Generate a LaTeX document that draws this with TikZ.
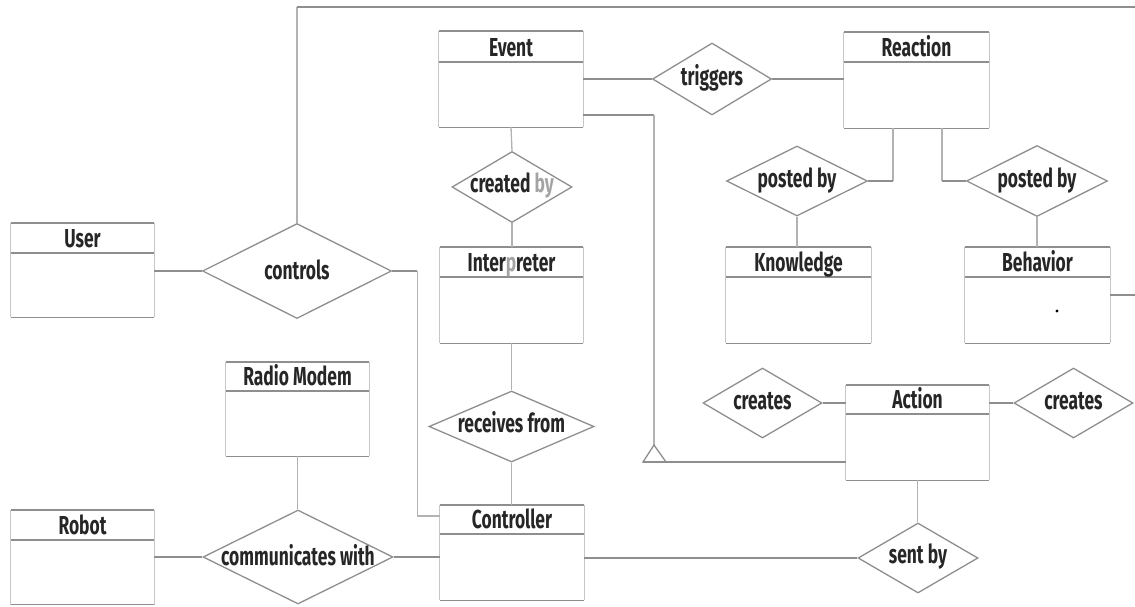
\documentclass[tikz,border=0pt]{standalone}
\usepackage{fontspec}
\setmainfont{Fira Sans}[FakeStretch=0.67]
\usetikzlibrary{shapes.geometric,fit,calc}

\definecolor{linegray}{HTML}{8E8E8E}
\definecolor{vertgray}{HTML}{B2B2B2}
\definecolor{sidegray}{HTML}{C6C6C6}
\definecolor{inkgray}{HTML}{262626}
\definecolor{fadegray}{HTML}{A4A4A4}

\tikzset{
  rule/.style={draw=linegray, line width=1.4pt},
  side/.style={draw=sidegray, line width=1pt},
  conn/.style={draw=linegray, line width=1.3pt},
  vconn/.style={draw=vertgray, line width=1.3pt},
  rel/.style={diamond, draw=linegray, line width=1.3pt, inner sep=0pt},
  etitle/.style={text=inkgray, font=\bfseries\fontsize{26}{28}\selectfont, inner sep=0pt},
}

% entity box: name, left, top, right, header line, bottom, title
\newcommand\entitybox[7]{%
  \node[fit={(#2,#3) (#4,#6)}, inner sep=0pt] (#1) {};
  \draw[side] (#1.north west) -- (#1.south west) (#1.north east) -- (#1.south east);
  \draw[rule] (#1.north west) -- (#1.north east) (#2,#5) -- (#4,#5) (#1.south west) -- (#1.south east);
  \node[etitle, anchor=base] (#1-title) at ({(#2+#4)/2},{#5-5.5}) {#7};
}

% relationship diamond: name, x, y, width, height, text, baseline drop
\newcommand\relation[7]{%
  \node[rel, minimum width=#4, minimum height=#5] (#1) at (#2,#3) {};
  \node[etitle, anchor=base] (#1-label) at ([yshift=-#7pt]#1.center) {#6};
}

\begin{document}
\begin{tikzpicture}[x=1pt, y=-1pt]
\useasboundingbox (0,0) rectangle (1135,606);

% entities
\entitybox{event}{439}{31}{583}{62}{127}{Event}
\entitybox{reaction}{844}{32}{989}{62}{128}{Reaction}
\entitybox{user}{11}{223}{154}{253}{317}{User}
\entitybox{interp}{440}{247}{583}{277}{343}{Inter{\color{fadegray}p}reter}
\entitybox{knowledge}{726}{247}{871}{277}{343}{Knowledge}
\entitybox{behavior}{965}{247}{1110}{277}{343}{Behavior}
\entitybox{radio}{226}{362}{369}{391}{456}{Radio Modem}
\entitybox{action}{846}{385}{989}{414}{480}{Action}
\entitybox{controller}{440}{505}{584}{534}{600}{Controller}
\entitybox{robot}{11}{510}{154}{540}{604.5}{Robot}

\fill[black] (1057,311) circle (1.6pt);

% relationships
\relation{controls}{297}{271}{189}{95}{controls}{8}
\relation{triggers}{712}{79}{119}{72}{triggers}{6}
\relation{postedA}{797}{181}{141}{70}{posted by}{6}
\relation{postedB}{1037}{181}{141}{71}{posted by}{6}
\relation{createdby}{512}{187}{120}{71}{created {\color{fadegray}by}}{5}
\relation{receives}{511.5}{426.5}{165}{71}{receives from}{6}
\relation{createsA}{762.5}{403}{119}{70}{creates}{6}
\relation{createsB}{1073.5}{403}{119}{70}{creates}{6}
\relation{sentby}{918}{558}{120}{70}{sent by}{5}
\relation{comm}{298}{557}{190}{94}{communicates with}{8}

% free ends and the generalization marker
\coordinate (offT) at (1135,7);
\coordinate (offR) at (1135,295);
\coordinate (isa) at (654,445);
\coordinate (isaL) at (643,462);
\coordinate (isaR) at (666,462);

% connectors
\draw[vconn] (controls.north) -- (controls.north |- offT);
\draw[conn] (controls.north |- offT) -- (offT);
\draw[conn] (user.east |- controls.west) -- (controls.west);
\draw[conn] (controls.east) -- ++(25,0);
\draw[vconn] ([xshift=25pt]controls.east) |- (controller.west |- 0,516);
\draw[conn] (event.east |- triggers.west) -- (triggers.west);
\draw[conn] (triggers.east) -- (reaction.west |- triggers.east);
\draw[conn] (event.east |- 0,115) -- (isa |- 0,115);
\draw[vconn] (isa |- 0,115) -- (isa);
\draw[conn] (isa) -- (isaL) -- (isaR) -- cycle;
\draw[conn] (isaL) -- (action.west |- isaL);
\draw[vconn] (event.south) -- (createdby.north);
\draw[vconn] (createdby.south) -- (createdby.south |- interp.north);
\draw[vconn] (interp.south) -- (receives.north);
\draw[vconn] (receives.south) -- (receives.south |- controller.north);
\draw[vconn] ([xshift=-23.5pt]reaction.south) -- ([xshift=-23.5pt]reaction.south |- postedA.east);
\draw[conn] (postedA.east) -- ([xshift=-23.5pt]reaction.south |- postedA.east);
\draw[vconn] ([xshift=25.5pt]reaction.south) -- ([xshift=25.5pt]reaction.south |- postedB.west);
\draw[conn] ([xshift=25.5pt]reaction.south |- postedB.west) -- (postedB.west);
\draw[vconn] (postedA.south) -- (postedA.south |- knowledge.north);
\draw[vconn] (postedB.south) -- (postedB.south |- behavior.north);
\draw[conn] (behavior.east) -- (offR);
\draw[conn] (createsA.east) -- (action.west |- createsA.east);
\draw[conn] (action.east |- createsB.west) -- (createsB.west);
\draw[vconn] (action.south) -- (action.south |- sentby.north);
\draw[conn] (controller.east |- sentby.west) -- (sentby.west);
\draw[vconn] (radio.south) -- (radio.south |- comm.north);
\draw[conn] (robot.east |- comm.west) -- (comm.west);
\draw[conn] (comm.east) -- (controller.west |- comm.east);
\end{tikzpicture}
\end{document}
